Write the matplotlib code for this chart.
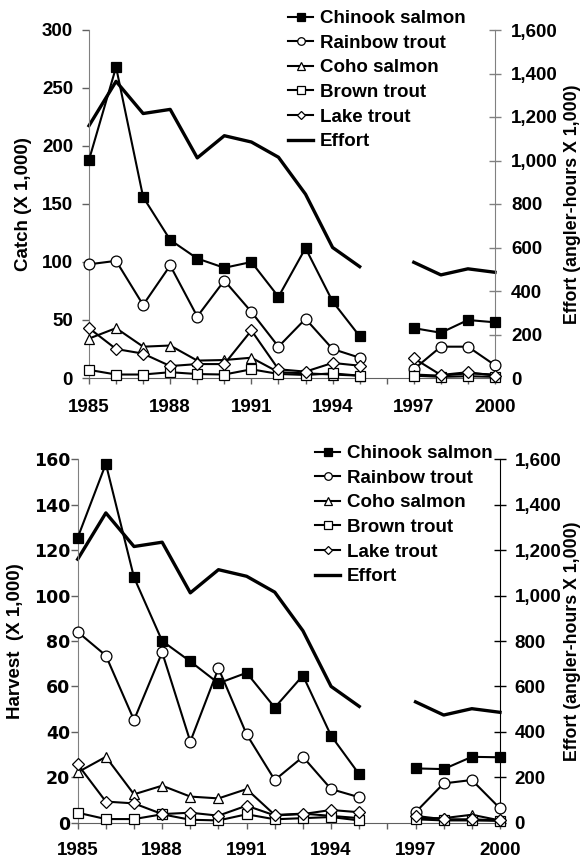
import numpy as np
import matplotlib
matplotlib.use("Agg")
import matplotlib.pyplot as plt
from matplotlib.ticker import FuncFormatter

years = list(range(1985, 2001))
nan = np.nan

# Catch (X 1,000)
catch_chinook = [188, 268, 156, 119, 103, 95, 100, 70, 112, 66, 36, nan, 43, 39, 50, 48]
catch_rainbow = [98, 101, 63, 97, 53, 84, 57, 27, 51, 25, 17.5, nan, 7.5, 27, 27, 11]
catch_coho = [34, 43, 27, 28, 15, 15.5, 17.5, 5, 4, 3, 2, nan, 3, 2, 4, 3]
catch_brown = [7, 3, 3, 5, 3.4, 3, 7.5, 3.5, 2.6, 4, 2, nan, 2, 1, 1.5, 1]
catch_lake = [43, 25, 21, 10.3, 12, 12, 41, 7.5, 5.5, 13, 10.6, nan, 17, 2.6, 5, 2]

# Harvest (X 1,000)
harv_chinook = [125.5, 158, 108, 80, 71, 61.4, 66, 50.7, 64.8, 38.3, 21.3, nan, 23.9, 23.6, 29, 28.8]
harv_rainbow = [84, 73.6, 45.2, 75, 35.7, 68, 38.9, 18.8, 29, 14.8, 11.2, nan, 4.6, 17.3, 18.8, 6.3]
harv_coho = [22.2, 29, 12.5, 16.3, 11.5, 10.7, 14.8, 3.4, 4, 3, 2, nan, 2, 2, 3.5, 1]
harv_brown = [4.4, 1.6, 1.6, 3.7, 1.3, 1, 3.7, 1.5, 2, 2.5, 1, nan, 1.5, 1, 1, 0.8]
harv_lake = [25.7, 9.3, 8.5, 3.8, 4.4, 3.1, 7.5, 3.2, 3.8, 5.6, 4.6, nan, 3, 1.5, 1.5, 1]

# Effort (angler-hours X 1,000)
effort = [1160, 1364, 1216, 1235, 1012, 1114, 1085, 1015, 845, 600, 512, nan, 532, 474, 502, 486]

species = ["Chinook salmon", "Rainbow trout", "Coho salmon", "Brown trout", "Lake trout"]
markers = ["s", "o", "^", "s", "D"]
faces = ["black", "white", "white", "white", "white"]
msizes = [7.4, 7.8, 7.8, 7.8, 6.2]

FONT = "Liberation Sans"
FS = 13.5
plt.rcParams["font.family"] = [FONT, "DejaVu Sans"]
plt.rcParams["font.weight"] = "bold"

fig = plt.figure(figsize=(5.84, 8.58), dpi=100)

panels = [
    dict(rect=(89, 30, 495, 378), data=[catch_chinook, catch_rainbow, catch_coho, catch_brown, catch_lake],
         ylim=300, ystep=50, ylabel="Catch (X 1,000)", ylx=32, rlx=564, legend=(288, 10),
         lpad=6.5, rpad=7, rspine="#808080", ltickfont=(FONT, FS), xpad=11),
    dict(rect=(77.7, 459.3, 500, 822.7), data=[harv_chinook, harv_rainbow, harv_coho, harv_brown, harv_lake],
         ylim=160, ystep=20, ylabel="Harvest  (X 1,000)", ylx=24, rlx=564, legend=(315, 445),
         lpad=0.5, rpad=6, rspine="black", ltickfont=("DejaVu Sans", 12.5), xpad=10),
]

W, H = 584, 858
for p in panels:
    x0, y0, x1, y1 = p["rect"]
    ax = fig.add_axes([x0 / W, 1 - y1 / H, (x1 - x0) / W, (y1 - y0) / H])
    ax2 = ax.twinx()
    ax.set_zorder(ax2.get_zorder() + 1)
    ax.patch.set_visible(False)

    handles = []
    for vals, name, m, fc, ms in zip(p["data"], species, markers, faces, msizes):
        h, = ax.plot(years, vals, color="black", lw=1.5, marker=m, markerfacecolor=fc,
                     markeredgecolor="black", markersize=ms, markeredgewidth=0.9,
                     clip_on=False, label=name, zorder=3)
        handles.append(h)
    he, = ax2.plot(years, effort, color="black", lw=2.4, clip_on=False, label="Effort")
    handles.append(he)

    ax.set_xlim(1985, 2000)
    ax.set_ylim(0, p["ylim"])
    ax2.set_ylim(0, 1600)
    ax.set_xticks(years)
    ax.set_xticklabels([str(y) if (y - 1985) % 3 == 0 else "" for y in years],
                       fontsize=FS, fontweight="bold", family=FONT)
    ax.set_yticks(np.arange(0, p["ylim"] + 1, p["ystep"]))
    ax.set_yticklabels([str(int(v)) for v in np.arange(0, p["ylim"] + 1, p["ystep"])],
                       fontsize=p["ltickfont"][1], fontweight="bold", family=p["ltickfont"][0])
    ax2.set_yticks(np.arange(0, 1601, 200))
    ax2.yaxis.set_major_formatter(FuncFormatter(lambda v, pos: f"{int(v):,}"))
    for t in ax2.get_yticklabels():
        t.set_fontsize(FS)
        t.set_fontweight("bold")

    ax.tick_params(axis="x", direction="out", length=4, width=1, color="#606060", pad=p["xpad"])
    ax.tick_params(axis="y", direction="out", length=5, width=1, color="#606060", pad=p["lpad"])
    ax2.tick_params(axis="y", direction="inout", length=9, width=1, color=p["rspine"], pad=p["rpad"])

    for a in (ax, ax2):
        a.spines["top"].set_visible(False)
    ax.spines["right"].set_visible(False)
    ax2.spines["left"].set_visible(False)
    ax2.spines["bottom"].set_visible(False)
    ax.spines["left"].set_color("#808080")
    ax.spines["bottom"].set_color("#606060")
    ax2.spines["right"].set_color(p["rspine"])

    ax.set_ylabel(p["ylabel"], fontsize=FS, fontweight="bold")
    ax.yaxis.set_label_coords((p["ylx"] - x0) / (x1 - x0), 0.5)
    ax2.set_ylabel("Effort (angler-hours X 1,000)", fontsize=12.8, fontweight="bold")
    ax2.yaxis.set_label_coords((p["rlx"] - x0) / (x1 - x0), 0.5)

    lx, ly = p["legend"]
    fig.legend(handles=handles, loc="upper left", bbox_to_anchor=(lx / W, 1 - ly / H),
               frameon=False, borderpad=0, borderaxespad=0, handlelength=1.35,
               handletextpad=0.35, labelspacing=0.4, markerscale=0.7,
               prop={"family": FONT, "weight": "bold", "size": FS})

fig.savefig("out.png", dpi=100)
